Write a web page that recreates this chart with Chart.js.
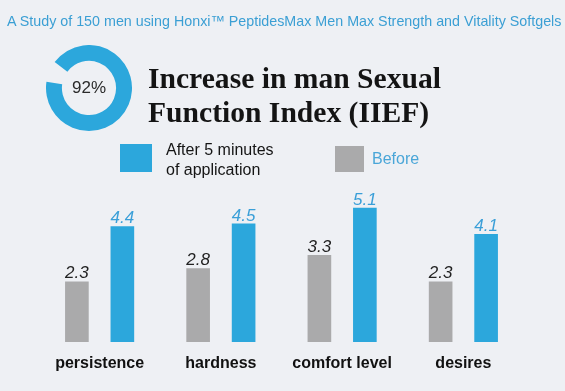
<!DOCTYPE html>
<html>
<head>
<meta charset="utf-8">
<script src="https://cdn.jsdelivr.net/npm/chart.js@4.4.0/dist/chart.umd.min.js"></script>
<style>
  html, body { margin: 0; padding: 0; background: #eef0f4; }
  #wrap { position: relative; width: 565px; height: 391px; overflow: hidden;
          font-family: "Liberation Sans", Arial, sans-serif; }
  #barChart { position: absolute; left: 0; top: 0; }
  #study { position: absolute; left: 7px; top: 14px; font-size: 14.3px; line-height: 1;
           color: #3b9fd4; white-space: nowrap; }
  #donut { position: absolute; left: 46px; top: 45px; }
  #pct { position: absolute; left: 46px; top: 45px; width: 86px; height: 86px;
         display: flex; align-items: center; justify-content: center;
         font-size: 17px; color: #2a2a2a; }
  #heading { position: absolute; left: 148px; top: 61px; font-family: "Liberation Serif", serif;
             font-weight: bold; font-size: 29.6px; line-height: 34px; color: #141414; white-space: nowrap; }
  .box { position: absolute; }
  .keytext { position: absolute; font-size: 16px; line-height: 20px; white-space: nowrap; }
</style>
</head>
<body>
<div id="wrap">
  <canvas id="barChart" width="565" height="391"></canvas>
  <div id="study">A Study of 150 men using Honxi™ PeptidesMax Men Max Strength and Vitality Softgels</div>
  <canvas id="donut" width="86" height="86"></canvas>
  <div id="pct">92%</div>
  <div id="heading">Increase in man Sexual<br>Function Index (IIEF)</div>
  <div class="box" style="left:120px;top:144px;width:32px;height:28px;background:#2ca7dc"></div>
  <div class="keytext" style="left:166px;top:140px;color:#151515">After 5 minutes<br>of application</div>
  <div class="box" style="left:335px;top:146px;width:29px;height:26px;background:#aaaaab"></div>
  <div class="keytext" style="left:372px;top:149px;color:#4aa6d8">Before</div>
</div>
<script>
const categories = ["persistence", "hardness", "comfort level", "desires"];
const beforeValues = [2.3, 2.8, 3.3, 2.3];
const afterValues = [4.4, 4.5, 5.1, 4.1];
const donutValues = [92, 8];

const blue = "#2ca7dc";
const gray = "#aaaaab";

// numbers drawn above each bar
const valueLabels = {
  id: "valueLabels",
  afterDatasetsDraw(chart) {
    const ctx = chart.ctx;
    chart.data.datasets.forEach((ds, i) => {
      const meta = chart.getDatasetMeta(i);
      meta.data.forEach((bar, j) => {
        ctx.save();
        ctx.font = "italic 17px 'Liberation Sans', Arial, sans-serif";
        ctx.fillStyle = ds.labelColor;
        ctx.textAlign = "center";
        ctx.textBaseline = "alphabetic";
        ctx.fillText(ds.data[j].toFixed(1), bar.x, bar.y - 3);
        ctx.restore();
      });
    });
  }
};

new Chart(document.getElementById("barChart"), {
  type: "bar",
  data: {
    labels: categories,
    datasets: [
      {
        label: "Before",
        data: beforeValues,
        backgroundColor: gray,
        labelColor: "#222222",
        categoryPercentage: 0.75,
        barPercentage: 0.52,
      },
      {
        label: "After 5 minutes of application",
        data: afterValues,
        backgroundColor: blue,
        labelColor: "#3a9fd8",
        categoryPercentage: 0.75,
        barPercentage: 0.52,
      },
    ],
  },
  plugins: [valueLabels],
  options: {
    responsive: false,
    animation: false,
    layout: { padding: { left: 39, right: 41, top: 184, bottom: 0 } },
    plugins: {
      legend: { display: false },
      tooltip: { enabled: false },
    },
    scales: {
      x: {
        grid: { display: false, drawTicks: false },
        border: { display: false },
        ticks: {
          padding: 12,
          color: "#111111",
          font: { family: "'Liberation Sans', Arial, sans-serif", size: 16, weight: "bold" },
        },
        afterFit: (s) => { s.height = 49; },
      },
      y: {
        display: false,
        min: 0,
        max: 6,
      },
    },
  },
});

new Chart(document.getElementById("donut"), {
  type: "doughnut",
  data: {
    labels: ["yes", "rest"],
    datasets: [{
      data: donutValues,
      backgroundColor: [blue, "rgba(0,0,0,0)"],
      borderWidth: 0,
    }],
  },
  options: {
    responsive: false,
    animation: false,
    cutout: "63%",
    rotation: 307,
    plugins: { legend: { display: false }, tooltip: { enabled: false } },
  },
});
</script>
</body>
</html>
